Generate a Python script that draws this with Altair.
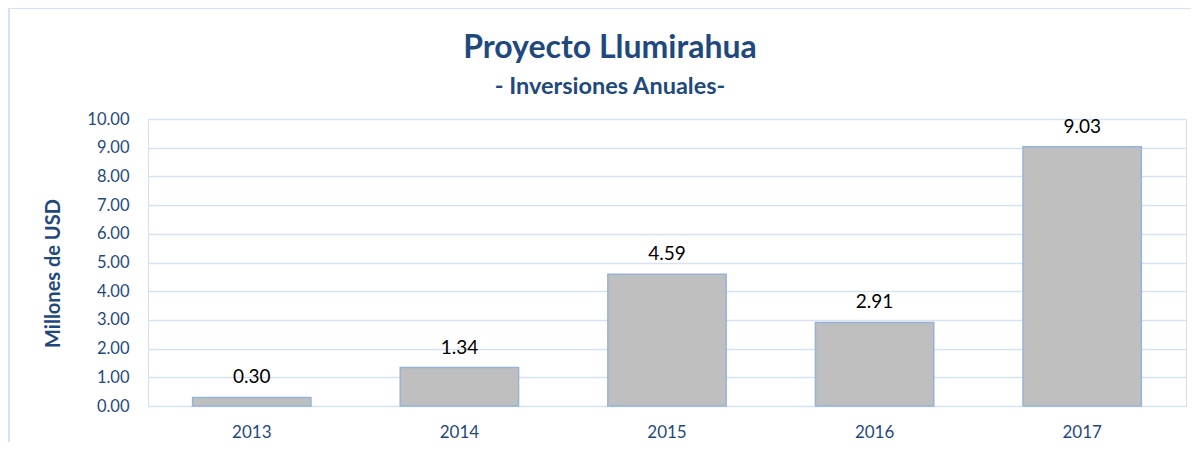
import altair as alt
import pandas as pd

years = ["2013", "2014", "2015", "2016", "2017"]
values = [0.30, 1.34, 4.59, 2.91, 9.03]
labels = ["0.30", "1.34", "4.59", "2.91", "9.03"]
y_ticks = [0, 1, 2, 3, 4, 5, 6, 7, 8, 9, 10]

title_text = "Proyecto Llumirahua"
subtitle_text = "- Inversiones Anuales-"
y_title = "Millones de USD"

df = pd.DataFrame({"year": years, "value": values, "label": labels})
one = pd.DataFrame({"t": [title_text], "s": [subtitle_text]})

DARK = "#1F497D"
GRID = "#D5E2F3"

x_enc = alt.X("year:N", title=None, sort=years,
              scale=alt.Scale(paddingInner=0.43, paddingOuter=0.215),
              axis=alt.Axis(labelAngle=0, labelFont="Lato", labelFontSize=17,
                            labelColor=DARK, ticks=False, domain=False,
                            labelPadding=18, grid=False))
y_enc = alt.Y("value:Q", title=y_title,
              scale=alt.Scale(domain=[0, 10], nice=False),
              axis=alt.Axis(values=y_ticks, format=".2f",
                            labelFont="Lato", labelFontSize=16.5, labelColor=DARK,
                            ticks=False, domain=False, labelPadding=19,
                            labelOverlap=False, tickCount=11,
                            gridColor=GRID, gridWidth=1.5,
                            titleFont="Lato", titleFontSize=20,
                            titleFontWeight="bold", titleColor=DARK,
                            titlePadding=23, titleY=154))

base = alt.Chart(df).encode(x=x_enc, y=y_enc)

bars = base.mark_bar(color="#BFBFBF", stroke="#95B3D7", strokeWidth=1.5)

text = base.mark_text(font="Lato", fontSize=19, color="#000000", dy=-20).encode(
    text="label:N",
)

title = alt.Chart(one).mark_text(font="Lato", fontSize=32, fontWeight="bold",
                                 color=DARK, align="center", baseline="alphabetic").encode(
    x=alt.value(462), y=alt.value(-61), text="t:N"
)
subtitle = alt.Chart(one).mark_text(font="Lato", fontSize=23.5, fontWeight="bold",
                                    color=DARK, align="center", baseline="alphabetic").encode(
    x=alt.value(462), y=alt.value(-25), text="s:N"
)

border_top = alt.Chart(one).mark_rule(color=GRID, strokeWidth=2).encode(
    x=alt.value(-140), x2=alt.value(1050), y=alt.value(-111)
)
border_left = alt.Chart(one).mark_rule(color=GRID, strokeWidth=2).encode(
    x=alt.value(-139), y=alt.value(-112), y2=alt.value(330)
)

chart = alt.layer(border_top, border_left, bars, text, title, subtitle).properties(
    width=1038,
    height=287,
    autosize=alt.AutoSizeParams(type="none"),
    padding={"left": 140, "top": 111, "right": 5, "bottom": 36},
).configure_view(stroke=None).configure(background="white")

chart.save("out.html", embed_options={"renderer": "svg", "actions": False})
